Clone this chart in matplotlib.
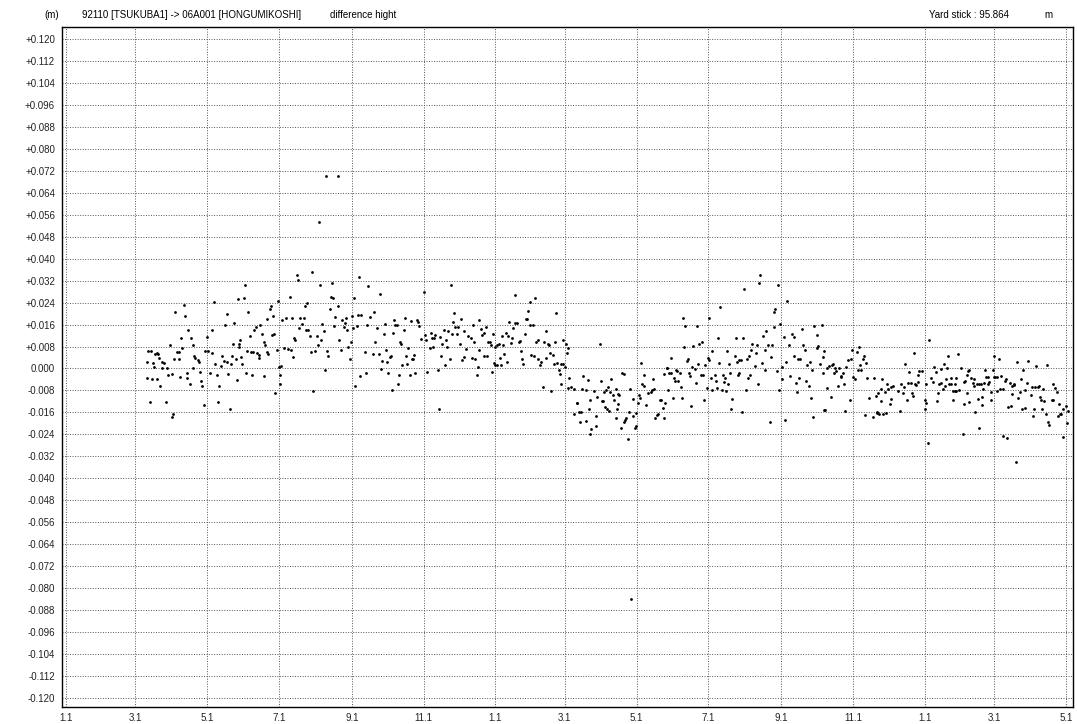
"""
Difference-height time series, 92110 [TSUKUBA1] -> 06A001 [HONGUMIKOSHI].
Daily values read off the reference plot (day index from 1 Jan of year 1, mm).
"""
import datetime as dt

import numpy as np
import matplotlib

matplotlib.use("Agg")
import matplotlib.pyplot as plt  # noqa: E402
import matplotlib.dates as mdates  # noqa: E402
from matplotlib import font_manager  # noqa: E402
from matplotlib.ticker import FuncFormatter, MultipleLocator  # noqa: E402

START = dt.date(2009, 1, 1)
END = dt.date(2011, 5, 1)

TITLE = "92110 [TSUKUBA1] -> 06A001 [HONGUMIKOSHI]"
SUBTITLE = "difference hight"
YARD = "Yard stick : 95.864"

# (day, value in mm)
mar_may_y1 = [
    (69, 2.3), (69, -3.6), (70, 6.3), (71, -12.2), (72, 6.2), (73, -4), (74, 1.9), (75, 0.5),
    (76, 5.2), (77, 5.8), (77, -3.8), (78, 5.2), (79, 4), (80, -6.4), (82, 2.3), (82, 0),
    (83, 2), (85, -12.2), (86, 0), (87, -2.4), (88, 8.7), (90, -2), (90, -17.5), (91, -16.4),
    (92, 3.5), (93, 20.7), (94, 6), (96, 6), (96, 3.3), (97, -3), (98, 11), (99, 7.6),
    (100, 23), (101, 19), (103, -1.5), (103, -3.5), (104, 14), (105, -5.8), (106, 11), (108, 0),
    (108, 8.4), (109, 4.6), (110, 3.9), (112, 3), (113, 2.4), (114, -1.3), (115, -4.5),
    (116, -6.2), (117, -13.3), (118, 6.4), (120, 11.4), (121, 6.3), (122, -1.5), (124, 14),
    (124, 5.8), (126, 24.2), (127, 1.8), (128, -2.2), (129, -12.1), (130, -6.2), (132, 1),
    (133, 4.5), (134, 2.8), (135, 15.8), (137, 20), (137, 2.5), (138, -2), (139, -14.7),
]
may_jul_y1 = [
    (140, 1.7), (141, 4.7), (142, 9.1), (143, 16.4), (144.5, 3.3), (145, -4.2), (146.5, 25.3),
    (147, 9.1), (147, 8), (148, 10.3), (149, 4.2), (150, 1.8), (151, 25.7), (152, 30.3),
    (153, -1.8), (154, 6.3), (155, 20.6), (156, 11.8), (157.5, 6.1), (158, -2.3), (159, 6.1),
    (160, 14), (161.5, 15), (162, 5.5), (164, 4.8), (164, 4), (165, 16), (167, 12.6),
    (168, 9.6), (168.5, -2.8), (169, 8.7), (170.5, 6), (171, 18), (172, 5.3), (173, 21.7),
    (174, 22.8), (175, 12.1), (176, 19.3), (177, 12.7), (178, -8.8), (179, 6.8), (180, 24.5),
    (181, 0.5), (182, -2.3), (182, -5.7), (183, 0.8), (184, 17.5), (185, 7.4), (187, 18.5),
    (189, 7.2), (190, 26), (191, 6.7), (192, 18.5), (193, 4.1), (194, 11), (195, 10.2),
    (196, 34.2), (197, 32.4), (198, 14.8), (199, 18.3), (201, 16.2), (202, 18.5), (203, 22.9),
    (204, 14.2), (205, 24), (206, 14.2), (207, 12), (208, 6), (209, 35.2), (210, -8.2),
]
jul_sep_y1 = [
    (212, 6.4), (213.6, 12), (214.5, 8.4), (215, 53.3), (216, 30.4), (217, 10.3), (218, 16.2),
    (219, 13.5), (220, -0.5), (221, 70), (222, 6.4), (223, 4.5), (224, 21.7), (225, 26.2),
    (226, 31), (227, 25.6), (228, 15.4), (229, 18.9), (231, 22.9), (231, 70), (232, 10.3),
    (234, 6.7), (235, 17.5), (236, 15.2), (237, 16.6), (238, 18.5), (239, 14.2), (240, 7.9),
    (241, 3.4), (242, 9.8), (243, 19.3), (244, 14.7), (245, 25.8), (246, -6.3), (247, 15.6),
    (248, 19.6), (249, 33.2), (250, -2.9), (251, 19.6), (254, 5.9), (255, -1.5), (256, 15.9),
    (257, 30), (258, 18.7), (261, 5.1), (262, 20.5), (263, 9.8), (264, 14.9), (266, 5.1),
    (267, 27.3), (268, -0.1), (269, 2.9), (270, 12.6), (271, 16.2), (272, 6.9), (273, 2.5),
    (274, -1.8), (275, 4.1), (276, 4.7), (277, -8), (278, 12.8), (279, 17.6), (280, 16),
    (281, 16), (282, -5.5), (283, -2.5), (284, 9.8),
]
oct_dec_y1 = [
    (285, 9), (286, 1.1), (287, 14.1), (288, 18.5), (289, 4.7), (290, 1.5), (291, 7.6),
    (292, -2.4), (293, 17.3), (294, 3.5), (295, 3.5), (296, 4.8), (297, -1.8), (298, 17.5),
    (299, 16.8), (300, 15.3), (301.5, 10.7), (304, 27.9), (305, 12.2), (306, 10.5), (307, -1.1),
    (309, 7.3), (310, 12.8), (311, 11), (312, 7.9), (312.5, 11), (314, 12.1), (316, -0.4),
    (317, -14.7), (318, 11.5), (319, 4.5), (320, 9.1), (321, 14.2), (322, 1.3), (323, 10.4),
    (323.5, 7.9), (325, 13.5), (326, 3.6), (327, 30.4), (328, 12.6), (329, 16.8), (330, 20.2),
    (331, 15), (332.5, 12.4), (333, 15.2), (335, 8.8), (336, 18), (337, 3.2), (338, 4.2),
    (338.5, 13.8), (340, 7.1), (342, 12), (344, 11.2), (345, 4), (346, 15.9), (347, 9.6),
    (348, 3.4), (349, -2.4), (350, 0.5), (351, 6.8), (351, 17.7), (353, 14.4), (354, 12.1),
    (355, 13), (355.5, 4.7),
]
dec_feb_y2 = [
    (357, 15), (358, 4.5), (359, 9.8), (360, 9.6), (361, 8.4), (362, -1.3), (362.7, 12.7),
    (363.5, 2.1), (364.6, 7.9), (365, 1.2), (366, 1.3), (366.5, 8.6), (367.8, 9.1), (369, 3.9),
    (370, 1.2), (371, 11.8), (371.7, 8.6), (372.5, 5.3), (373.7, 13), (374.8, 2.2),
    (375.7, 11.8), (376.8, 16.8), (378, 9.3), (378.8, 11.2), (380, 14.8), (381.4, 16.6),
    (381.6, 26.9), (383.3, 16.5), (384.8, 9.6), (386, 9.9), (386.5, 6.3), (387.6, 3.3),
    (388.7, 1.7), (389.9, 12.7), (391, 18.2), (392, 17.9), (393, 21.1), (394, 16), (394.4, 24.2),
    (395.5, 4.8), (396.7, 16), (398, 4.5), (398.9, 25.5), (399.5, 9.6), (401, 10.2),
    (401.4, 3.4), (402.9, 1.2), (404, 2.2), (405.4, -6.8), (406.5, 9.8), (407.7, 13.8),
    (408, 4), (409.4, 8.8), (410.8, 8.4), (411.6, 5.6), (412.5, -8.2), (413.7, 5), (415, 1.8),
    (415.6, 9.8), (416.7, 20.1), (417.6, 2.1), (419, -0.6), (419.9, -1.9), (420.5, 1.8),
    (420.7, -5.7), (422.4, 1.8), (422.7, 10.3), (424.4, 0.6), (425, 9.1), (425.9, 5.8),
    (426.7, 7.3), (427, -7), (427.8, -3.6),
]
mar_may_y2 = [
    (429.5, -6.9), (431.8, -16.5), (432, -7.4), (434.3, -12.5), (434.5, -12.5), (436.3, -16),
    (436.6, -19.6), (437.7, -15.8), (438.6, -7.6), (439.7, -2.9), (441.7, -7.8), (441.9, -19.3),
    (443.4, -4.1), (444.5, -14.8), (445.1, -11.5), (445.4, -24), (446.5, -21.9), (448.5, -8.2),
    (450.2, -17.2), (450.5, -21.1), (451.6, -10.5), (453.9, 9), (454.5, -4.4), (455.8, -11.8),
    (456.7, -12), (457.3, -8.6), (458.4, -14), (458.7, -8), (460.1, -14.8), (461, -6.7),
    (461.3, -15.6), (462.6, -8.4), (463.5, -4), (464.7, -9.6), (466, -11.4), (467.2, -7.6),
    (467.5, -18.2), (468.6, -14.9), (468.9, -13), (469.4, -9.2), (470.3, -9.8), (471.7, -21.5),
    (472.8, -1.5), (474, -1.9), (474.5, -19.6), (475.1, -18.8), (476, -17.9), (477.7, -25.8),
    (478.5, -15.9), (479.6, -7.4), (480.2, -84), (481.9, -17.3), (482.2, -11), (483.6, -21.7),
    (484.2, -21), (484.4, -16.1), (485.9, -12.6), (487.3, -9.7), (488.1, -10.7), (488.7, 2.1),
    (489.8, -5.7), (491, -6.2), (491.5, -2.4), (492.7, -13.3), (494.9, -9), (496.9, -8.5),
    (498.3, -8), (498.7, -3.8), (500, -7.6), (500.6, -17.9),
]
may_jul_y2 = [
    (502, -16.8), (503, -16.4), (505, -11.3), (506, -11.4), (507, -14.5), (508, -18.1),
    (508.5, -2.1), (509, -12.4), (510.6, 0), (511, 0), (512, -7.8), (512.8, -1.6), (514, 3.9),
    (514.3, -1.7), (515.6, -10.8), (516.5, -3.6), (517.9, -4.7), (518.5, -0.6), (519.6, -0.8),
    (520.4, -4.5), (521.6, -1.6), (522.5, -6.8), (523.4, -10.7), (524.5, 18.3), (525.4, 7.9),
    (526.4, 15.4), (527.6, 2.7), (528.4, 3.3), (529.5, -1.6), (530.4, -2.8), (531.5, -13.6),
    (532, 0.4), (533.2, 8.1), (534.6, -0.2), (535.5, -5.3), (536.3, 15.5), (537.2, 1.5),
    (538.3, 9.1), (539.5, -2.4), (540.3, 9.8), (541.4, -2.4), (542.5, -11.6), (543.4, 1.1),
    (545.1, -7.2), (545.4, 3.9), (546.3, 18.5), (546.8, 3.2), (548.5, -3.3), (548.8, -7.9),
    (549.1, 6.4), (551.4, -2.5), (552.5, -4.7), (553.4, -7), (554.2, 11), (555.3, 2.1),
    (556.2, 22.3), (557.6, -7.9), (558.4, -2.3), (559.3, -4.8), (559.9, -3.3), (561, -8.2),
    (562.1, 6.2), (562.7, -5.5), (563.3, 1.8), (564.4, -1.6), (565.5, -14.9), (566.4, -11),
    (568.4, 4.5), (569.5, 11), (570.4, 2.5), (571, -2.2), (571.9, 3), (572.3, -1.6),
]
aug_oct_y2 = [
    (573.7, 3.2), (574.3, -15.9), (575.2, 11), (576.5, 29.1), (577.7, -7.8), (578.8, 3.3),
    (580, -3.5), (580.3, 4.4), (581.4, -2.4), (582, 6.9), (582.8, 9.1), (585.4, 1),
    (586.5, 5.6), (587.4, 8.6), (588.5, -5.5), (589.3, 31.3), (590.2, 34.1), (591.3, 1.9),
    (592.4, 12), (593.9, 6.9), (594.4, -0.7), (595.2, 13.7), (596.4, 8.7), (598.4, -19.5),
    (599.2, 4.2), (600.1, 8.4), (601.5, 15), (602, 20.6), (602.9, 21.5), (604.3, -1),
    (605.2, 30.4), (606.3, -7.8), (607.1, 16.1), (608.3, -3.9), (608.8, 0.5), (610.3, 11.4),
    (611.1, -18.7), (612.2, 2.4), (613.1, 24.5), (614.3, 8.4), (615.4, -2.8), (617.3, 12.7),
    (618.5, 11.3), (619, 4.4), (620.5, -5.3), (621.3, -8.7), (622.4, 3.3), (623.3, -3.5),
    (624.1, 3.3), (625.6, 14.4), (626.4, 8.5), (628.1, 6.8), (629.2, -4.6), (630.1, 1.3),
    (631.3, -6.3), (632.1, 2.3), (633.2, -10.8), (634.1, -0.5), (635.2, -17.5), (636, 15.3),
    (638.1, 12.1), (638.1, 7.6), (639.2, 8.1), (641.2, 1.8), (642.4, 15.9), (643.3, -1.7),
    (643.5, 4.1), (644.6, -15),
]
oct_dec_y2 = [
    (644.3, 6.3), (645.4, -15.2), (646.6, 0), (647.1, -7), (648.3, 0.8), (650.5, -10.2),
    (651.1, 1.3), (652.2, 1.5), (652.8, -1.8), (653.9, 0), (654.3, -1), (656.5, -6.2),
    (657.3, 0), (658.5, -3), (659, -2.8), (660.2, -1.8), (661.3, -5.7), (662.4, -15.5),
    (663, 0.4), (665, 3), (666.4, -11.3), (667, 3.5), (668.1, 6.9), (669.2, -3), (670.4, -3.9),
    (672.1, 6), (673.2, -0.7), (674.1, 7.9), (675.2, 1.3), (676, -0.7), (677.2, 3.3), (678, 4.5),
    (678.9, -16.8), (680, 2.1), (681.1, -3.3), (682.5, -10.6), (685.9, -17.5), (686.7, -3.6),
    (688.2, -10.1), (689, -16.2), (689.6, -16), (690.2, -8.9), (691.3, -16.6), (692.5, -7.4),
    (693, -11.8), (693.8, -3.8), (694.7, -16.4), (696.1, -8.6), (697, -16.2), (698.1, -5.5),
    (698.9, -7.3), (700.1, -13.1), (701, -11), (701.2, -6.8), (702.6, -6.2), (707.2, -8.1),
    (708.9, -15.6), (710, -5.7), (711.4, -9.1), (712.5, -6.8), (713.1, 1.6), (714.8, -11.3),
    (715.4, -5.1), (716.2, -1.3),
]
dec_mar_y3 = [
    (718.2, -5.1), (718.8, -8.9), (719.9, -9.9), (721, 5.8), (721.6, -5.5), (722.5, -6),
    (723.9, -2.3), (724.2, -5), (725, -0.8), (727.3, -0.8), (729.9, -11.4), (730.1, -14.8),
    (730.7, -5.6), (731.3, -12.6), (733, -27.3), (733.8, 10.2), (735.3, -3.5), (737.2, -4.9),
    (738.1, 0.6), (739.5, -1.3), (740.1, -11.8), (741, -8.9), (742.1, -5.6), (743.3, -5.2),
    (743.8, -0.1), (745.2, -7.5), (746.1, 1.8), (746.9, -6.3), (747.8, -3.9), (748.8, 0),
    (750, 4.4), (750.8, -5.7), (752, -3.6), (752.2, -5.7), (754, -11.5), (754.2, -8.1),
    (755.4, -8.2), (755.7, -5.6), (756.2, -8.1), (756.8, -3.3), (757.9, 5.3), (759.1, -7.8),
    (761, 0.1), (762.5, -23.9), (763.1, -12.9), (763.6, -4.9), (764.4, -4.6), (765.9, -2.5),
    (766.1, -8.9), (767, -1), (767.2, -12.2), (767.8, -0.5), (769, -3.6), (770.7, -5.3),
    (771.9, -3.8), (772.1, -6.2), (772.9, -15.8), (774.1, -5.8), (775, -11), (776.1, -21.8),
    (776.3, -5.7), (778, -5.7), (778.2, -13.2), (778.9, -10.4), (779.7, -7.6), (780.1, -5.2),
    (781.2, -0.4), (782.3, -3), (783.5, -5.5), (784, -3), (784.6, -4.9), (786.2, -11.5),
    (786.5, -8.6), (788, -0.4), (788.8, -3.2), (789.1, 4.7),
]
mar_may_y3 = [
    (790, -3.2), (791.1, -3), (791.3, -8.3), (792.8, 3.3), (793.9, -7.4), (795, -2.8),
    (796.2, -24.7), (796.7, -7.4), (797.9, -4.7), (798.8, -3.8), (799.8, -25.4), (800.9, -14.1),
    (802.1, -5.3), (803, -13.6), (803.8, -9.3), (804.3, -6.4), (805.5, -5.5), (806, -5.9),
    (807.5, -34), (808, 2.3), (809.2, -10.8), (810.9, -8.7), (811.7, -3.8), (812.8, -14.7),
    (813.7, -0.4), (814.9, -14.3), (815.4, -7.9), (816.8, -5.1), (817.9, 2.7), (820, -9.7),
    (820.8, -6.7), (821.9, -17.2), (822.8, -14.7), (823.6, -6.9), (824.7, 0.8), (825.9, -6.8),
    (827.3, -6.5), (827.6, -10.5), (828.7, -11.6), (829.8, -14.8), (830.7, -7.6), (831.5, -11.9),
    (833, -16.4), (834.1, 1.1), (834.9, -19.4), (835.8, -20.6), (838.1, -11.3), (839.2, -11.5),
    (839.2, -5.7), (840.6, -7), (842.1, -8.7), (843.2, -17.2), (843.8, -12.8), (844.9, -16.4),
    (846, -16.4), (847.2, -24.9), (847.7, -14.8), (850, -13.6), (851.1, -19.7), (851.5, -15.6),
]

SEGMENTS = [mar_may_y1, may_jul_y1, jul_sep_y1, oct_dec_y1, dec_feb_y2, mar_may_y2,
            may_jul_y2, aug_oct_y2, oct_dec_y2, dec_mar_y3, mar_may_y3]


def ytick_fmt(v, _pos):
    if abs(v) < 1e-9:
        return "0.000"
    return f"{v:+.3f}"


def pick_font():
    # narrow face if the sandbox has it, plain Liberation Sans otherwise
    names = {f.name for f in font_manager.fontManager.ttflist}
    fams = [n for n in ("Liberation Sans Narrow", "Liberation Sans") if n in names]
    return fams + ["DejaVu Sans"]


def main():
    pts = np.array([p for seg in SEGMENTS for p in seg], dtype=float)
    t0 = mdates.date2num(START)
    x = t0 + pts[:, 0]
    y = pts[:, 1] / 1000.0

    plt.rcParams["font.family"] = pick_font()
    fig = plt.figure(figsize=(10.77, 7.24), dpi=100)
    ax = fig.add_axes([62 / 1077, 1 - 707 / 724, (1073 - 62) / 1077, (707 - 27) / 724])

    ax.scatter(x, y, s=4, c="black", linewidths=0, zorder=3)

    ax.set_xlim(t0 - 3.4, mdates.date2num(END) + 5.9)
    ax.set_ylim(-0.12328, 0.12437)

    ax.yaxis.set_major_locator(MultipleLocator(0.008))
    ax.yaxis.set_major_formatter(FuncFormatter(ytick_fmt))
    ax.xaxis.set_major_locator(mdates.MonthLocator(bymonth=[1, 3, 5, 7, 9, 11]))
    ax.xaxis.set_major_formatter(
        FuncFormatter(lambda v, _p: f"{mdates.num2date(v).month}.{mdates.num2date(v).day}"))

    ax.grid(True, color="#555555", linestyle=(0, (1, 1.6)), linewidth=0.7, zorder=1)
    ax.tick_params(axis="both", length=0, labelsize=7, colors="#222222")
    ax.tick_params(axis="y", pad=5)
    ax.tick_params(axis="x", pad=4)
    for sp in ax.spines.values():
        sp.set_color("black")
        sp.set_linewidth(1.0)

    ty = 1 - 15 / 724
    fig.text(44 / 1077, ty, "(m)", fontsize=7, va="center")
    fig.text(82 / 1077, ty, TITLE, fontsize=7, va="center")
    fig.text(330 / 1077, ty, SUBTITLE, fontsize=7, va="center")
    fig.text(929 / 1077, ty, YARD, fontsize=7, va="center")
    fig.text(1044 / 1077, ty, "m", fontsize=7, va="center")

    fig.savefig("out.png", dpi=100)
    plt.close(fig)


if __name__ == "__main__":
    main()
